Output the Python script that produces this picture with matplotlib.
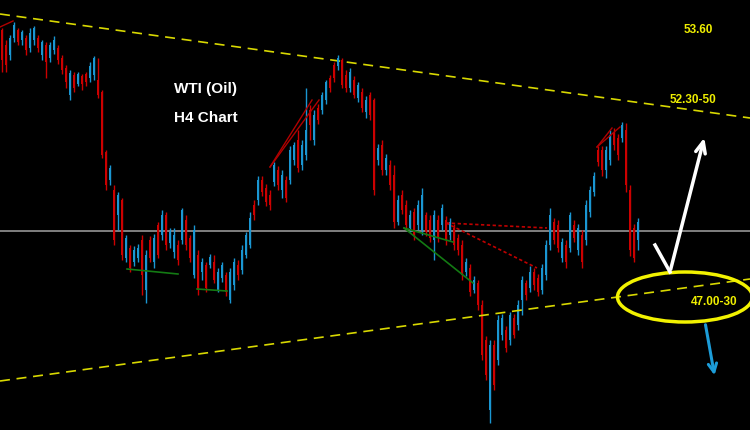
import numpy as np
import matplotlib
matplotlib.use('Agg')
import matplotlib.pyplot as plt
from matplotlib.patches import Ellipse

# H4 candles (price)
opens = [55.10, 54.65, 54.35, 54.86, 55.10, 54.80, 54.86, 54.56, 54.80, 54.86,
         54.35, 54.65, 54.26, 54.50, 54.56, 54.26, 53.96, 53.15, 53.75, 53.48,
         53.72, 53.78, 53.66, 53.75, 53.60, 53.24, 51.44, 50.60, 50.30, 49.55,
         50.00, 48.26, 48.56, 48.14, 48.26, 48.80, 47.30, 48.80, 48.14, 49.25,
         48.95, 49.55, 48.71, 48.44, 48.65, 48.80, 49.40, 48.86, 47.75, 48.35,
         47.84, 48.05, 48.05, 48.14, 47.30, 47.66, 47.75, 47.00, 47.45, 48.05,
         47.90, 48.35, 48.65, 49.85, 50.00, 50.60, 50.36, 50.15, 50.54, 50.90,
         50.30, 50.60, 50.60, 51.20, 51.80, 51.05, 51.35, 52.70, 51.80, 52.76,
         52.70, 53.00, 53.66, 54.05, 54.02, 54.20, 53.75, 53.36, 53.60, 53.06,
         53.24, 52.64, 53.15, 53.00, 51.20, 51.65, 50.90, 51.05, 50.75, 49.34,
         50.15, 49.85, 49.16, 49.64, 49.25, 49.10, 49.55, 49.40, 48.80, 49.40,
         49.25, 49.40, 48.95, 49.16, 48.86, 48.65, 47.84, 47.96, 47.30, 47.51,
         46.85, 45.80, 43.70, 45.65, 45.20, 45.95, 46.10, 45.80, 46.46, 46.25,
         47.00, 47.51, 47.36, 47.84, 47.66, 47.30, 47.75, 48.65, 49.34, 49.25,
         48.26, 48.65, 48.56, 49.25, 48.50, 48.95, 48.80, 49.64, 50.24, 51.50,
         51.50, 50.90, 51.20, 52.04, 51.86, 51.86, 52.10, 50.30, 49.16, 48.80]
closes = [54.20, 54.05, 54.86, 55.25, 54.74, 55.04, 54.50, 55.01, 55.16, 54.56,
          54.74, 54.14, 54.65, 54.80, 54.20, 53.90, 53.54, 53.81, 53.36, 53.78,
          53.48, 53.54, 54.02, 54.26, 53.15, 51.35, 50.45, 50.96, 48.80, 50.15,
          48.35, 48.86, 47.96, 48.50, 48.56, 47.75, 48.35, 48.26, 48.86, 48.35,
          49.55, 48.65, 49.04, 48.95, 48.20, 49.70, 48.65, 48.26, 49.10, 47.30,
          48.14, 47.36, 48.29, 47.60, 47.84, 48.05, 47.24, 47.84, 48.14, 47.75,
          48.50, 48.95, 49.46, 49.55, 50.60, 50.24, 49.94, 49.85, 51.05, 50.45,
          50.75, 50.06, 51.50, 51.65, 50.96, 51.65, 52.10, 52.25, 52.55, 52.40,
          53.15, 53.54, 53.36, 53.66, 54.26, 53.45, 53.36, 53.84, 53.15, 53.45,
          52.76, 53.00, 52.55, 50.30, 51.56, 50.90, 51.26, 50.45, 49.34, 50.00,
          49.70, 49.25, 49.55, 48.95, 49.85, 50.15, 49.04, 48.86, 49.55, 48.86,
          49.76, 48.80, 49.34, 48.65, 48.50, 47.75, 48.14, 47.24, 47.60, 46.85,
          45.35, 44.75, 45.65, 44.45, 46.40, 46.46, 45.56, 46.55, 45.95, 46.85,
          47.60, 47.15, 47.84, 47.45, 47.24, 47.96, 48.65, 49.55, 48.80, 48.56,
          48.74, 48.14, 49.55, 48.86, 49.16, 48.14, 49.85, 50.30, 50.72, 51.14,
          50.90, 51.50, 51.95, 51.65, 51.35, 52.25, 50.45, 48.50, 48.26, 49.34]
highs = [55.16, 54.80, 54.95, 55.34, 55.16, 55.10, 54.95, 55.16, 55.22, 54.95,
         54.80, 54.74, 54.74, 54.92, 54.65, 54.35, 54.05, 53.90, 53.84, 53.84,
         53.78, 53.84, 54.14, 54.32, 54.26, 53.30, 51.50, 51.05, 50.45, 50.24,
         50.06, 48.95, 48.65, 48.62, 48.68, 48.95, 48.50, 48.92, 48.98, 49.34,
         49.70, 49.64, 49.16, 49.16, 48.80, 49.76, 49.55, 48.95, 49.25, 48.50,
         48.26, 48.14, 48.38, 48.35, 47.96, 48.14, 47.84, 47.96, 48.26, 48.20,
         48.65, 49.04, 49.64, 50.00, 50.72, 50.72, 50.48, 50.30, 51.14, 51.02,
         50.90, 50.72, 51.62, 51.74, 52.10, 51.80, 53.36, 52.85, 52.70, 52.88,
         53.24, 53.60, 53.75, 54.14, 54.35, 54.26, 53.90, 53.96, 53.72, 53.54,
         53.36, 53.12, 53.24, 53.06, 51.68, 51.80, 51.38, 51.20, 51.05, 50.15,
         50.30, 50.00, 49.70, 49.76, 50.00, 50.36, 49.64, 49.55, 49.70, 49.55,
         49.88, 49.52, 49.46, 49.28, 48.98, 48.80, 48.26, 48.08, 47.72, 47.60,
         47.00, 45.92, 45.80, 45.80, 46.55, 46.58, 46.22, 46.64, 46.58, 47.00,
         47.72, 47.60, 48.02, 47.96, 47.78, 48.08, 48.80, 49.76, 49.46, 49.40,
         48.86, 48.80, 49.64, 49.40, 49.28, 49.10, 50.00, 50.42, 50.84, 51.62,
         51.62, 51.62, 52.10, 52.16, 51.98, 52.34, 52.31, 50.45, 49.28, 49.46]
lows = [53.84, 53.84, 54.20, 54.74, 54.65, 54.65, 54.35, 54.44, 54.65, 54.44,
        54.20, 53.66, 54.14, 54.38, 54.08, 53.78, 53.36, 53.00, 53.24, 53.42,
        53.30, 53.42, 53.54, 53.60, 53.06, 51.26, 50.30, 50.45, 48.65, 49.10,
        48.20, 48.14, 47.84, 48.02, 48.14, 47.15, 46.91, 48.14, 47.96, 48.26,
        48.80, 48.50, 48.56, 48.26, 48.05, 48.68, 48.50, 48.14, 47.66, 47.15,
        47.60, 47.24, 47.96, 47.51, 47.24, 47.54, 47.12, 46.91, 47.30, 47.60,
        47.78, 48.26, 48.56, 49.40, 49.85, 50.12, 49.82, 49.70, 50.42, 50.30,
        50.06, 49.94, 50.48, 51.05, 50.84, 50.90, 51.20, 51.80, 51.65, 52.28,
        52.58, 52.88, 53.24, 53.54, 53.90, 53.36, 53.24, 53.24, 53.06, 52.94,
        52.64, 52.46, 52.40, 50.15, 51.05, 50.75, 50.75, 50.30, 49.16, 49.25,
        49.58, 49.10, 49.04, 48.80, 49.10, 48.95, 48.92, 48.74, 48.20, 48.74,
        49.10, 48.65, 48.80, 48.50, 48.35, 47.60, 47.72, 47.12, 47.21, 46.70,
        45.20, 44.60, 43.31, 44.30, 45.05, 45.80, 45.44, 45.65, 45.86, 46.10,
        46.55, 47.00, 47.24, 47.30, 47.12, 47.18, 47.60, 48.50, 48.68, 48.44,
        48.14, 47.96, 48.44, 48.74, 48.35, 47.96, 48.65, 49.49, 50.12, 51.02,
        50.72, 50.66, 51.05, 51.50, 51.20, 51.74, 50.24, 48.32, 48.14, 48.50]

# channel and reference levels
upper_channel = ([-0.5, 187.0], [55.58, 52.46])
lower_channel = ([-0.5, 187.0], [44.57, 47.63])
mid_level = 49.07

# pattern lines drawn on the chart
red_lines = [([-0.5, 2.75], [55.19, 55.37]),
             ([67.0, 77.5], [50.99, 53.00]),
             ([67.0, 79.25], [50.99, 53.00]),
             ([148.75, 152.5], [51.59, 52.16]),
             ([148.75, 154.5], [51.59, 52.19])]
red_dotted = [([111.0, 136.25], [49.31, 49.16]),
              ([111.0, 133.75], [49.31, 47.96])]
green_lines = [([31.25, 44.0], [47.93, 47.78]),
               ([48.75, 56.25], [47.33, 47.27]),
               ([100.5, 112.75], [49.16, 48.74]),
               ([100.5, 117.75], [49.16, 47.51])]

# scenario arrows
up_path = ([163.25, 167.0, 175.75], [48.65, 47.84, 51.95])
down_path = ([175.75, 178.25], [46.34, 44.66])

BLUE = '#1a96d2'
RED = '#cc0000'
YELLOW = '#d8d800'

fig = plt.figure(figsize=(7.5, 4.3), dpi=100)
fig.patch.set_facecolor('black')
ax = fig.add_axes([0, 0, 1, 1])
ax.set_facecolor('black')

o = np.array(opens)
c = np.array(closes)
h = np.array(highs)
l = np.array(lows)
x = np.arange(len(o))
colors = np.where(c >= o, BLUE, RED)

ax.vlines(x, l, h, colors=colors, lw=1, zorder=3)
ax.bar(x, c - o, bottom=o, width=0.72, color=colors, zorder=3)

ax.axhline(mid_level, color='#8a8a8a', lw=1.3, zorder=2)
ax.plot(*upper_channel, color=YELLOW, lw=1.2, ls=(0, (6, 4)), zorder=2)
ax.plot(*lower_channel, color=YELLOW, lw=1.2, ls=(0, (6, 4)), zorder=4)

for xs, ys in red_lines:
    ax.plot(xs, ys, color='#b00000', lw=1, zorder=4)
for xs, ys in red_dotted:
    ax.plot(xs, ys, color='#c00000', lw=1.2, ls=(0, (2, 1.5)), zorder=4)
for xs, ys in green_lines:
    ax.plot(xs, ys, color='#137a13', lw=1.2, zorder=4)

ax.add_patch(Ellipse((170.75, 47.09), 33.75, 1.5, fill=False,
                     edgecolor='#f2f200', lw=2.5, zorder=5))

ax.plot(up_path[0][:2], up_path[1][:2], color='white', lw=2.5, zorder=5)
ax.annotate('', xy=(up_path[0][2], up_path[1][2]),
            xytext=(up_path[0][1], up_path[1][1]),
            arrowprops=dict(arrowstyle='->,head_length=0.8,head_width=0.35',
                            color='white', lw=2.5), zorder=5)
ax.annotate('', xy=(down_path[0][1], down_path[1][1]),
            xytext=(down_path[0][0], down_path[1][0]),
            arrowprops=dict(arrowstyle='->,head_length=0.6,head_width=0.3',
                            color='#1c9cd8', lw=2.2), zorder=5)

ax.text(51, 53.33, 'WTI (Oil)', color='white', fontsize=11, fontweight='bold',
        family='Liberation Sans', ha='center', va='center')
ax.text(51, 52.46, 'H4 Chart', color='white', fontsize=11, fontweight='bold',
        family='Liberation Sans', ha='center', va='center')
for label, lx, ly in [('53.60', 174.0, 55.10), ('52.30-50', 172.75, 53.00),
                      ('47.00-30', 178.0, 46.94)]:
    ax.text(lx, ly, label, color='#eeee00', fontsize=8.5, fontweight='bold',
            family='Liberation Sans', ha='center', va='center', zorder=6)

ax.set_xlim(-0.5, 187.0)
ax.set_ylim(43.1, 56.0)
ax.axis('off')

fig.savefig('out.png', dpi=100, facecolor='black')
